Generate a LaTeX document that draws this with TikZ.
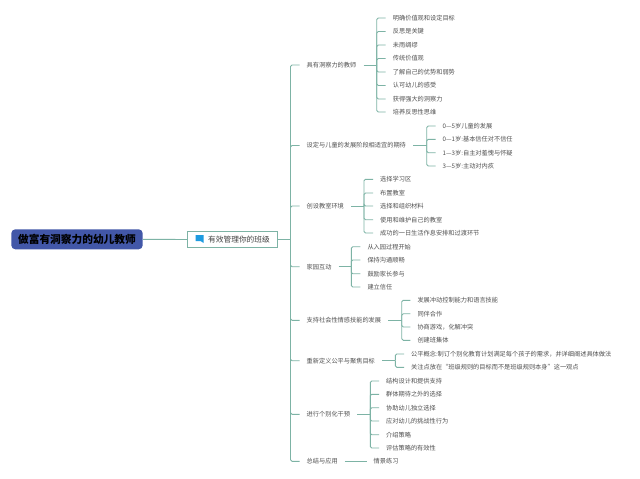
\documentclass[tikz,border=0pt]{standalone}
\usepackage{fontspec}
\setmainfont{Noto Sans CJK SC}
\definecolor{linkc}{HTML}{7DB3A5}
\definecolor{txtc}{HTML}{505050}
\definecolor{rootc}{HTML}{4257A8}
\definecolor{flagc}{HTML}{1E9BE0}
\tikzset{
  linkline/.style={draw=linkc,line width=0.9pt},
  elbow/.style={linkline,rounded corners=1.5pt},
  lab/.style={anchor=west,inner xsep=7pt,inner ysep=1pt,text=txtc,font=\fontsize{6.2}{7}\selectfont},
  rootbox/.style={fill=rootc,rounded corners=4pt,minimum width=131.4pt,minimum height=20pt,inner sep=0pt,
     text=black,font=\fontsize{10.7}{13}\selectfont\bfseries},
  mainbox/.style={draw=linkc,fill=white,line width=0.8pt,minimum width=90.4pt,minimum height=15.6pt,inner sep=0pt,
     text=txtc!80!black,font=\fontsize{7.7}{9}\selectfont},
  flagicon/.style={fill=flagc,draw=none}
}
\begin{document}
\begin{tikzpicture}[x=1pt,y=-1pt]
\useasboundingbox[fill=white] (0,0) rectangle (640,479);
\node[rootbox] (root) at (77,239.3) {做富有洞察力的幼儿教师};
\node[mainbox] (main) at (232.5,239.5) {\hspace*{13pt}有效管理你的班级};
\fill[flagicon] (195.7,235) -- (203.7,235) -- (203.7,243) -- (200.5,241) -- (195.7,241) -- cycle;
\coordinate (trunk) at (290.5,239.5);
\draw[linkline] (root.east) -- (main.west);
\draw[linkline] (main.east) -- (trunk);

% level one
\node[lab] (a) at (299.5,65) {具有洞察力的教师};
\node[lab] (b) at (299.5,145.5) {设定与儿童的发展阶段相适宜的期待};
\node[lab] (c) at (299.5,206) {创设教室环境};
\node[lab] (d) at (299.5,266.7) {家园互动};
\node[lab] (e) at (299.5,320.3) {支持社会性情感技能的发展};
\node[lab] (f) at (299.5,360.7) {重新定义公平与聚焦目标};
\node[lab] (g) at (299.5,414.3) {进行个别化干预};
\node[lab] (h) at (299.5,461.3) {总结与应用};
\foreach \n in {a,b,c,d,e,f,g,h}{\draw[elbow] (trunk) |- (\n.west);}

% group a
\coordinate (ba) at (376.7,65);
\draw[linkline] (a.east) -- (ba);
\node[lab] (a1) at (385.7,18) {明确价值观和设定目标};
\node[lab] (a2) at (385.7,31.5) {反思是关键};
\node[lab] (a3) at (385.7,45) {未雨绸缪};
\node[lab] (a4) at (385.7,58.5) {传统价值观};
\node[lab] (a5) at (385.7,72) {了解自己的优势和弱势};
\node[lab] (a6) at (385.7,85.5) {认可幼儿的感受};
\node[lab] (a7) at (385.7,99) {获得强大的洞察力};
\node[lab] (a8) at (385.7,112) {培养反思性思维};
\foreach \n in {a1,a2,a3,a4,a5,a6,a7,a8}{\draw[elbow] (ba) |- (\n.west);}

% group b
\coordinate (bb) at (426.7,145.5);
\draw[linkline] (b.east) -- (bb);
\node[lab] (b1) at (435.5,126) {0—5岁儿童的发展};
\node[lab] (b2) at (435.5,139.3) {0—1岁:基本信任对不信任};
\node[lab] (b3) at (435.5,152.7) {1—3岁:自主对羞愧与怀疑};
\node[lab] (b4) at (435.5,166) {3—5岁:主动对内疚};
\foreach \n in {b1,b2,b3,b4}{\draw[elbow] (bb) |- (\n.west);}

% group c
\coordinate (bc) at (364,206);
\draw[linkline] (c.east) -- (bc);
\node[lab] (c1) at (373,179.3) {选择学习区};
\node[lab] (c2) at (373,193) {布置教室};
\node[lab] (c3) at (373,206) {选择和组织材料};
\node[lab] (c4) at (373,219.7) {使用和维护自己的教室};
\node[lab] (c5) at (373,233) {成功的一日生活作息安排和过渡环节};
\foreach \n in {c1,c2,c3,c4,c5}{\draw[elbow] (bc) |- (\n.west);}

% group d
\coordinate (bd) at (351.3,266.7);
\draw[linkline] (d.east) -- (bd);
\node[lab] (d1) at (360.3,246.7) {从入园过程开始};
\node[lab] (d2) at (360.3,260) {保持沟通顺畅};
\node[lab] (d3) at (360.3,273.7) {鼓励家长参与};
\node[lab] (d4) at (360.3,287) {建立信任};
\foreach \n in {d1,d2,d3,d4}{\draw[elbow] (bd) |- (\n.west);}

% group e
\coordinate (be) at (401.7,320.3);
\draw[linkline] (e.east) -- (be);
\node[lab] (e1) at (410.3,300.3) {发展冲动控制能力和语言技能};
\node[lab] (e2) at (410.3,313.7) {同伴合作};
\node[lab] (e3) at (410.3,327) {协商游戏，化解冲突};
\node[lab] (e4) at (410.3,340.3) {创建班集体};
\foreach \n in {e1,e2,e3,e4}{\draw[elbow] (be) |- (\n.west);}

% group f
\coordinate (bf) at (395.3,360.7);
\draw[linkline] (f.east) -- (bf);
\node[lab] (f1) at (404,354) {公平概念:制订个别化教育计划满足每个孩子的需求，并详细阐述具体做法};
\node[lab] (f2) at (404,367.3) {关注点放在“班级规则的目标而不是班级规则本身”这一观点};
\foreach \n in {f1,f2}{\draw[elbow] (bf) |- (\n.west);}

% group g
\coordinate (bg) at (370.3,414.3);
\draw[linkline] (g.east) -- (bg);
\node[lab] (g1) at (379,381) {结构设计和提供支持};
\node[lab] (g2) at (379,394.3) {群体期待之外的选择};
\node[lab] (g3) at (379,407.7) {协助幼儿独立选择};
\node[lab] (g4) at (379,421) {应对幼儿的挑战性行为};
\node[lab] (g5) at (379,434.7) {介绍策略};
\node[lab] (g6) at (379,448) {评估策略的有效性};
\foreach \n in {g1,g2,g3,g4,g5,g6}{\draw[elbow] (bg) |- (\n.west);}

% group h
\node[lab] (h1) at (366.5,461.3) {情景练习};
\draw[linkline] (h.east) -- (h1.west);
\end{tikzpicture}
\end{document}
